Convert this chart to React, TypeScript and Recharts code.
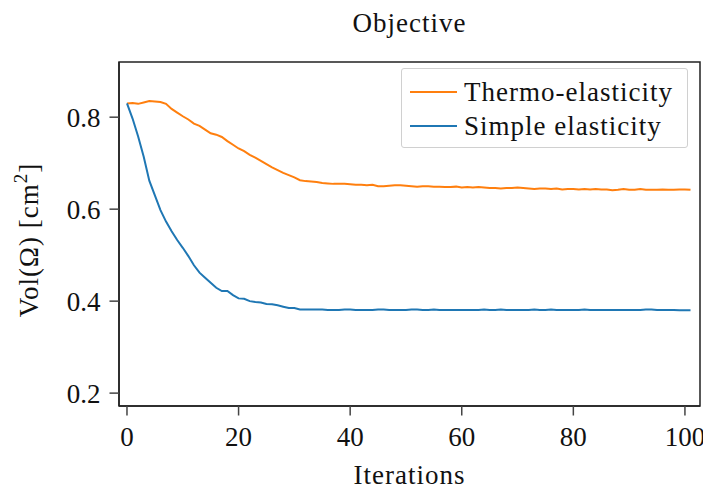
import { LineChart, Line, XAxis, YAxis, Legend, ReferenceArea } from "recharts";

const iterations = Array.from({ length: 102 }, (_, i) => i);

const thermo = [
  0.83, 0.831, 0.829, 0.832, 0.835, 0.834, 0.833, 0.829, 0.818, 0.81,
  0.802, 0.795, 0.786, 0.781, 0.773, 0.765, 0.762, 0.757, 0.748, 0.74,
  0.732, 0.726, 0.718, 0.712, 0.705, 0.698, 0.691, 0.685, 0.679, 0.674,
  0.669, 0.663, 0.661, 0.66, 0.659, 0.657, 0.656, 0.655, 0.655, 0.655,
  0.654, 0.653, 0.653, 0.652, 0.653, 0.65, 0.65, 0.651, 0.652, 0.652,
  0.651, 0.65, 0.649, 0.65, 0.65, 0.649, 0.649, 0.648, 0.648, 0.649,
  0.647, 0.648, 0.647, 0.648, 0.647, 0.646, 0.646, 0.645, 0.646, 0.646,
  0.647, 0.646, 0.645, 0.644, 0.645, 0.645, 0.644, 0.645, 0.643, 0.644,
  0.644, 0.643, 0.644, 0.643, 0.644, 0.643, 0.643, 0.641, 0.642, 0.644,
  0.642, 0.642, 0.644, 0.642, 0.642, 0.642, 0.643, 0.642, 0.642, 0.643,
  0.643, 0.642,
];

const simple = [
  0.83, 0.797, 0.758, 0.714, 0.662, 0.63, 0.598, 0.573, 0.552, 0.533,
  0.516, 0.498, 0.478, 0.462, 0.451, 0.44, 0.429, 0.422, 0.422, 0.413,
  0.406, 0.405, 0.4, 0.398, 0.397, 0.394, 0.393, 0.391, 0.388, 0.385,
  0.385, 0.382, 0.382, 0.382, 0.382, 0.382, 0.381, 0.381, 0.381, 0.382,
  0.382, 0.381, 0.381, 0.381, 0.381, 0.382, 0.382, 0.381, 0.381, 0.381,
  0.381, 0.382, 0.382, 0.381, 0.381, 0.382, 0.381, 0.381, 0.381, 0.381,
  0.381, 0.381, 0.381, 0.381, 0.382, 0.381, 0.381, 0.382, 0.381, 0.381,
  0.381, 0.381, 0.381, 0.382, 0.381, 0.381, 0.382, 0.381, 0.381, 0.381,
  0.381, 0.381, 0.382, 0.381, 0.381, 0.381, 0.381, 0.381, 0.381, 0.381,
  0.381, 0.381, 0.381, 0.382, 0.382, 0.381, 0.381, 0.381, 0.381, 0.38,
  0.38, 0.38,
];

const xTicks = [0, 20, 40, 60, 80, 100];
const yTicks = [0.2, 0.4, 0.6, 0.8];
const xDomain = [-1.43, 102.7];
const yDomain = [0.172, 0.92];

const data = iterations.map((it, i) => ({ it, thermo: thermo[i], simple: simple[i] }));

const FONT = "'Liberation Serif', 'Times New Roman', serif";
const AXIS = "#222";

const legendItems = [
  { label: "Thermo-elasticity", color: "#ff7f0e" },
  { label: "Simple elasticity", color: "#1f77b4" },
];

function LegendBox() {
  return (
    <div
      style={{
        boxSizing: "border-box",
        width: 287,
        height: 80,
        padding: "6px 0",
        border: "1px solid #d0d0d0",
        borderRadius: 3,
        background: "rgba(255,255,255,0.8)",
        fontFamily: FONT,
        fontSize: 27,
        letterSpacing: 1,
        color: "#111",
      }}
    >
      {legendItems.map((item) => (
        <div key={item.label} style={{ height: 34, display: "flex", alignItems: "center" }}>
          <div style={{ width: 47, height: 2, marginLeft: 8, marginRight: 7, background: item.color }} />
          <span>{item.label}</span>
        </div>
      ))}
    </div>
  );
}

function YLabel(props: any) {
  const vb = props.viewBox || { x: 0, y: 62, width: 119, height: 344 };
  const cx = vb.x + 38;
  const cy = vb.y + vb.height / 2 + 6;
  return (
    <text
      x={cx}
      y={cy}
      transform={`rotate(-90, ${cx}, ${cy})`}
      textAnchor="middle"
      fontFamily={FONT}
      fontSize={27}
      letterSpacing={1}
      fill="#111"
    >
      Vol(Ω) [cm
      <tspan fontSize={19} dy={-11}>2</tspan>
      <tspan dy={11}>]</tspan>
    </text>
  );
}

export default function App() {
  return (
    <div style={{ position: "relative", width: 711, height: 492, margin: -8, background: "#fff" }}>
      <div
        style={{
          position: "absolute",
          top: 8,
          left: 119,
          width: 581,
          textAlign: "center",
          fontFamily: FONT,
          fontSize: 27,
          letterSpacing: 1,
          color: "#111",
        }}
      >
        Objective
      </div>
      <LineChart width={711} height={492} data={data} margin={{ top: 62, right: 11, left: 0, bottom: 0 }}>
        <XAxis
          dataKey="it"
          type="number"
          domain={xDomain}
          ticks={xTicks}
          height={86}
          tickSize={9.5}
          tickMargin={11}
          tick={{ fontFamily: FONT, fontSize: 27, fill: "#111" }}
          axisLine={{ stroke: AXIS, strokeWidth: 1.5 }}
          tickLine={{ stroke: "#444", strokeWidth: 1.5 }}
          allowDataOverflow
          label={{
            value: "Iterations",
            position: "insideBottom",
            offset: 8,
            fontFamily: FONT,
            fontSize: 27,
            letterSpacing: 1,
            fill: "#111",
          }}
        />
        <YAxis
          type="number"
          domain={yDomain}
          ticks={yTicks}
          width={119}
          tickSize={9.5}
          tickMargin={9}
          tickFormatter={(v: number) => v.toFixed(1)}
          tick={{ fontFamily: FONT, fontSize: 27, fill: "#111" }}
          axisLine={{ stroke: AXIS, strokeWidth: 1.5 }}
          tickLine={{ stroke: "#444", strokeWidth: 1.5 }}
          allowDataOverflow
          label={{ content: (p: any) => <YLabel {...p} /> }}
        />
        <ReferenceArea
          x1={xDomain[0]}
          x2={xDomain[1]}
          y1={yDomain[0]}
          y2={yDomain[1]}
          fill="none"
          fillOpacity={0}
          stroke={AXIS}
          strokeWidth={1.5}
          strokeOpacity={1}
          ifOverflow="visible"
        />
        <Legend
          layout="vertical"
          align="center"
          verticalAlign="middle"
          content={() => <LegendBox />}
          wrapperStyle={{ left: 401, top: 68, width: 287, height: 80 }}
        />
        <Line
          type="linear"
          dataKey="thermo"
          stroke="#ff7f0e"
          strokeWidth={2}
          dot={false}
          isAnimationActive={false}
        />
        <Line
          type="linear"
          dataKey="simple"
          stroke="#1f77b4"
          strokeWidth={2}
          dot={false}
          isAnimationActive={false}
        />
      </LineChart>
    </div>
  );
}
